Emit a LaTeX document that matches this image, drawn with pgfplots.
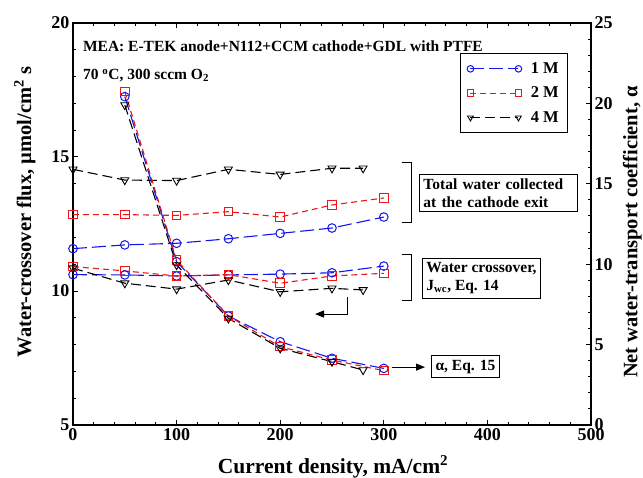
\documentclass[border=0pt]{standalone}
\usepackage{pgfplots}
\pgfplotsset{compat=1.18}
\usepackage{fontspec}
\setmainfont{Liberation Serif}
\usetikzlibrary{arrows.meta}
\newcommand{\ff}{\bfseries\fontsize{15.5}{18}\selectfont}
\newcommand{\ft}{\bfseries\fontsize{18}{20}\selectfont}
\newcommand{\fl}{\bfseries\fontsize{20.5}{23}\selectfont}
\newcommand{\fx}{\bfseries\fontsize{21.5}{24}\selectfont}
\newcommand{\fg}{\bfseries\fontsize{16.5}{19}\selectfont}
\definecolor{bl}{RGB}{20,20,235}
\definecolor{rd}{RGB}{240,20,20}
\pgfplotsset{
  s1/.style={bl, line width=1.1pt, dash pattern=on 14pt off 5pt, mark=o, mark size=4.3pt, mark options={solid, fill=white, line width=1pt}},
  s2/.style={rd, line width=1.1pt, dash pattern=on 6pt off 4pt, mark=square, mark size=4.3pt, mark options={solid, fill=white, line width=1pt}},
  s4/.style={black, line width=1.1pt, dash pattern=on 10pt off 5pt, mark=triangle, mark size=4.6pt, mark options={solid, fill=white, rotate=180, line width=0.9pt}},
  base/.style={scale only axis, width=518pt, height=402pt, xmin=0, xmax=500,
    tick align=inside, major tick length=5pt, minor tick length=3pt,
    axis line style={line width=1.2pt}, every tick/.style={line width=1pt, black},
    ticklabel style={font=\ft}, label style={font=\fl},
    /pgf/number format/assume math mode=true},
}
\begin{document}
\begin{tikzpicture}
\begin{axis}[base,
  ymin=5, ymax=20, ytick={5,10,15,20}, xtick={0,100,...,500},
  minor x tick num=4, minor y tick num=4, ytick pos=left, xtick pos=both,
  xlabel={Current density, mA/cm\textsuperscript{2}},
  xlabel style={at={(axis description cs:0.502,-0.104)}, anchor=center, font=\fx},
  ylabel={Water-crossover flux, µmol/cm\textsuperscript{2} s},
  ylabel style={at={(axis description cs:-0.093,0.53)}, anchor=center},
  legend style={at={(axis description cs:0.956,0.925)}, anchor=north east, font=\fg, draw=black, line width=1pt, row sep=8pt, column sep=7pt, inner xsep=7pt, inner ysep=7pt},
  legend cell align=left,
  legend image code/.code={\draw[#1, mark size=3.3pt, mark repeat=2, mark phase=1] plot coordinates {(0pt,0pt) (24pt,0pt) (48pt,0pt)};},
]
\coordinate (ll) at (rel axis cs:0,0);
\coordinate (ur) at (rel axis cs:1,1);
% total water collected
\addplot[s1] coordinates {(0,11.58) (50,11.72) (100,11.78) (150,11.95) (200,12.15) (250,12.35) (300,12.76)};
\addlegendentry{1 M}
\addplot[s2] coordinates {(0,12.85) (50,12.85) (100,12.82) (150,12.96) (200,12.76) (250,13.21) (300,13.47)};
\addlegendentry{2 M}
\addplot[s4] coordinates {(0,14.54) (50,14.14) (100,14.12) (150,14.54) (200,14.35) (250,14.58) (280,14.58)};
\addlegendentry{4 M}
% water crossover
\addplot[s1, forget plot] coordinates {(0,10.61) (50,10.60) (100,10.56) (150,10.60) (200,10.63) (250,10.68) (300,10.93)};
\addplot[s2, forget plot] coordinates {(0,10.91) (50,10.75) (100,10.56) (150,10.61) (200,10.29) (250,10.56) (300,10.66)};
\addplot[s4, forget plot] coordinates {(0,10.85) (50,10.29) (100,10.07) (150,10.41) (200,9.97) (250,10.10) (280,10.04)};
% annotations
\node[anchor=base west, font=\ff, inner sep=0pt] at (axis cs:9.5,18.95) {MEA: E-TEK anode+N112+CCM cathode+GDL with PTFE};
\node[anchor=base west, font=\ff, inner sep=0pt] at (axis cs:9.5,17.9) {70 \textsuperscript{o}C, 300 sccm O\textsubscript{2}};
\node[draw, line width=1pt, align=left, font=\ff, text width=150pt, inner sep=4pt] at (axis cs:410.7,13.64) {Total water collected\\at the cathode exit};
\draw[line width=1pt] (axis cs:317.6,14.78) -- (axis cs:326.3,14.78) -- (axis cs:326.3,12.54) -- (axis cs:317.6,12.54);
\node[draw, line width=1pt, align=left, font=\ff, inner sep=4pt] at (axis cs:394.3,10.47) {Water crossover,\\J\textsubscript{wc}, Eq. 14};
\draw[line width=1pt] (axis cs:317.6,11.38) -- (axis cs:326.3,11.38) -- (axis cs:326.3,9.66) -- (axis cs:317.6,9.66);
\draw[line width=1pt, -{Triangle[length=9pt,width=7pt]}] (axis cs:265.4,9.78) -- (axis cs:265.4,9.14) -- (axis cs:233.6,9.14);
\node[draw, line width=1pt, font=\ff, inner sep=4pt] at (axis cs:378.9,7.18) {α, Eq. 15};
\draw[line width=1pt, -{Triangle[length=9pt,width=7pt]}] (axis cs:307.9,7.16) -- (axis cs:339.8,7.16);
\end{axis}
\begin{axis}[base,
  ymin=0, ymax=25, ytick={0,5,...,25}, minor y tick num=4,
  axis x line=none, axis y line*=right,
  ylabel={Net water-transport coefficient, α},
  ylabel style={at={(axis description cs:1.08,0.48)}, anchor=center},
]
\addplot[s1] coordinates {(50,20.42) (100,10.16) (150,6.78) (200,5.18) (250,4.15) (300,3.52)};
\addplot[s2] coordinates {(50,20.73) (100,10.25) (150,6.78) (200,4.87) (250,4.04) (300,3.38)};
\addplot[s4] coordinates {(50,19.9) (100,9.95) (150,6.63) (200,4.77) (250,3.94) (280,3.42)};
\end{axis}
\pgfresetboundingbox
\path ([xshift=-73pt,yshift=-52pt]ll) rectangle ([xshift=52pt,yshift=23pt]ur);
\end{tikzpicture}
\end{document}
